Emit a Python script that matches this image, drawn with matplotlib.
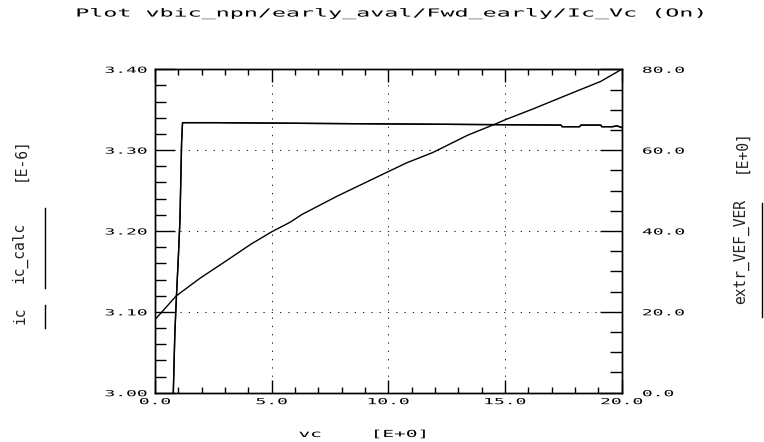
import matplotlib
matplotlib.use("Agg")
import matplotlib.pyplot as plt
from matplotlib.patheffects import AbstractPathEffect
from matplotlib.transforms import Affine2D
from matplotlib.lines import Line2D
from matplotlib.ticker import FixedLocator, MultipleLocator

# ---- forward Early sweep: collector current vs collector voltage ----
vc_ic = [0.0, 0.4, 0.78, 0.85, 0.92, 1.0, 1.07, 1.14, 1.18, 2.6, 7.1,
         17.4, 17.45, 18.2, 18.25, 19.1, 19.15, 19.6, 19.8, 20.0]
ic = [0.0, 0.5, 2.995, 3.073, 3.120, 3.167, 3.214, 3.310, 3.334, 3.334, 3.333,
      3.331, 3.329, 3.329, 3.331, 3.331, 3.329, 3.329, 3.330, 3.328]
ic_calc = [0.0, 0.5, 2.995, 3.073, 3.120, 3.167, 3.214, 3.310, 3.334, 3.334, 3.333,
           3.331, 3.329, 3.329, 3.331, 3.331, 3.329, 3.329, 3.330, 3.328]

# extracted Early voltage
vc_vef = [0.0, 0.3, 0.9, 1.9, 3.1, 4.1, 5.0, 5.8, 6.3, 7.8, 10.0, 10.8,
          11.9, 13.4, 14.6, 15.0, 16.2, 17.6, 19.1, 20.0]
extr_vef_ver = [18.1, 20.0, 23.9, 28.2, 32.8, 36.7, 39.8, 42.2, 44.1, 48.6,
                54.7, 56.9, 59.4, 63.7, 66.5, 67.5, 70.2, 73.5, 77.0, 80.0]

x_ticks = [0, 5, 10, 15, 20]
x_tick_labels = ["0.0", "5.0", "10.0", "15.0", "20.0"]
ic_ticks = [3.00, 3.10, 3.20, 3.30, 3.40]
ic_tick_labels = ["3.00", "3.10", "3.20", "3.30", "3.40"]
vef_ticks = [0, 20, 40, 60, 80]
vef_tick_labels = ["0.0", "20.0", "40.0", "60.0", "80.0"]

title_text = "Plot vbic_npn/early_aval/Fwd_early/Ic_Vc (On)"

W, H = 764, 442
MONO = "DejaVu Sans Mono"


class WideGlyphs(AbstractPathEffect):
    """Stretch glyph outlines along the baseline (plotter-style wide lettering)."""

    def __init__(self, sx, anchor="center"):
        super().__init__()
        self.sx = sx
        self.anchor = anchor

    def draw_path(self, renderer, gc, tpath, affine, rgbFace=None):
        ext = tpath.get_extents()
        if self.anchor == "left":
            x0 = ext.x0
        elif self.anchor == "right":
            x0 = ext.x1
        else:
            x0 = 0.5 * (ext.x0 + ext.x1)
        stretch = Affine2D().translate(-x0, 0).scale(self.sx, 1.0).translate(x0, 0)
        renderer.draw_path(gc, tpath, stretch + affine, rgbFace)


def px(x, y):
    return x / W, 1 - y / H


fig = plt.figure(figsize=(W / 100, H / 100), dpi=100)
fig.patch.set_facecolor("white")

left, right, top, bottom = 155, 621.7, 69.3, 392.7
ax = fig.add_axes([left / W, 1 - bottom / H, (right - left) / W, (bottom - top) / H])
ax2 = ax.twinx()

ax.plot(vc_ic, ic, color="black", lw=1.0, zorder=3)
ax.plot(vc_ic, ic_calc, color="black", lw=1.0, zorder=3)
ax2.plot(vc_vef, extr_vef_ver, color="black", lw=1.0, zorder=3)

ax.set_xlim(0, 20)
ax.set_ylim(3.00, 3.40)
ax2.set_ylim(0, 80)

ax.xaxis.set_major_locator(FixedLocator(x_ticks))
ax.set_xticklabels(x_tick_labels)
ax.xaxis.set_minor_locator(MultipleLocator(1))
ax.yaxis.set_major_locator(FixedLocator(ic_ticks))
ax.set_yticklabels(ic_tick_labels)
ax.yaxis.set_minor_locator(MultipleLocator(0.02))
ax2.yaxis.set_major_locator(FixedLocator(vef_ticks))
ax2.set_yticklabels(vef_tick_labels)
ax2.yaxis.set_minor_locator(MultipleLocator(5))

ax.grid(True, which="major", color="#222222", lw=0.72, linestyle=(0, (1.3, 7.0)), zorder=1)
ax.set_axisbelow(True)

for a in (ax, ax2):
    for s in a.spines.values():
        s.set_linewidth(1.0)
        s.set_color("black")

ax.tick_params(axis="x", which="both", direction="in", top=True, bottom=True,
               width=1.0, colors="black", labelfontfamily=MONO, labelsize=6)
ax.tick_params(axis="x", which="major", length=9.4, pad=3.2)
ax.tick_params(axis="x", which="minor", length=4.5)
ax.tick_params(axis="y", which="both", direction="in", left=True, right=False,
               width=1.0, colors="black", labelfontfamily=MONO, labelsize=6)
ax.tick_params(axis="y", which="major", length=14.4, pad=5.8)
ax.tick_params(axis="y", which="minor", length=7.9)
ax2.tick_params(axis="y", which="both", direction="in", right=True, left=False,
                width=1.0, colors="black", labelfontfamily=MONO, labelsize=6)
ax2.tick_params(axis="y", which="major", length=15.6, pad=15)
ax2.tick_params(axis="y", which="minor", length=8.4)

for lbl in ax.get_xticklabels():
    lbl.set_path_effects([WideGlyphs(2.15, "center")])
for lbl in ax.get_yticklabels():
    lbl.set_path_effects([WideGlyphs(2.15, "right")])
for lbl in ax2.get_yticklabels():
    lbl.set_path_effects([WideGlyphs(2.15, "left")])

# title, plotter lettering across the top
fig.text(*px(392, 14), title_text, ha="center", va="center", family=MONO,
         size=8, path_effects=[WideGlyphs(2.1)])

# x-axis name and unit
fig.text(*px(310, 434), "vc", ha="center", va="center", family=MONO,
         size=7, path_effects=[WideGlyphs(2.0)])
fig.text(*px(400, 434), "[E+0]", ha="center", va="center", family=MONO,
         size=7, path_effects=[WideGlyphs(2.0)])

# left axis: trace names with their line samples
lab_kw = dict(ha="center", va="center", rotation=90, family=MONO, size=10.5,
              color="#222222")
fig.text(*px(20, 315), "ic", **lab_kw)
fig.text(*px(20, 252.5), "ic_calc", **lab_kw)
fig.text(*px(20, 159), "[E-6]", **lab_kw)
fig.add_artist(Line2D([45 / W, 45 / W], [1 - 305 / H, 1 - 328 / H], color="black", lw=1.0))
fig.add_artist(Line2D([45 / W, 45 / W], [1 - 208 / H, 1 - 288 / H], color="black", lw=1.0))

# right axis
fig.text(*px(741, 251.5), "extr_VEF_VER", **lab_kw)
fig.text(*px(741, 151), "[E+0]", **lab_kw)
fig.add_artist(Line2D([762 / W, 762 / W], [1 - 203 / H, 1 - 317 / H], color="black", lw=1.0))

fig.savefig("out.png", dpi=100)
